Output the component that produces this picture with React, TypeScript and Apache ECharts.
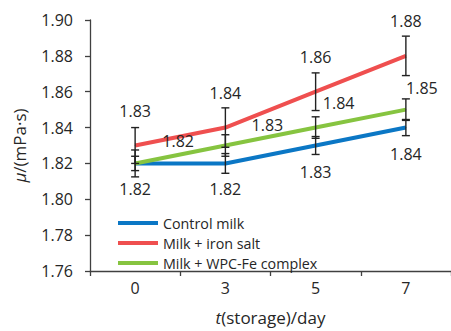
import React, { useEffect, useRef } from "react";
import * as echarts from "echarts";

const categories = ["0", "3", "5", "7"];
const controlMilk = [1.82, 1.82, 1.83, 1.84];
const milkIronSalt = [1.83, 1.84, 1.86, 1.88];
const milkWpcFe = [1.82, 1.83, 1.84, 1.85];
const controlErr = [0.004, 0.0055, 0.005, 0.0045];
const ironErr = [0.01, 0.011, 0.0105, 0.011];
const wpcErr = [0.0075, 0.006, 0.006, 0.006];
const yTicks = { min: 1.76, max: 1.9, interval: 0.02 };
const seriesNames = ["Control milk", "Milk + iron salt", "Milk + WPC-Fe complex"];
const colors = ["#0B77C5", "#EF4F4F", "#86C440"];
const greenLabelOffsets = [
  [43, -22],
  [42, -21],
  [23, -25],
  [16, -22],
];

const FONT = "'Open Sans', sans-serif";
const TEXT = "#262626";

function errorSeries(name: string, values: number[], errs: number[]) {
  return {
    type: "custom",
    name,
    z: 5,
    silent: true,
    data: values.map((v, i) => [i, v, errs[i]]),
    encode: { x: 0, y: 1 },
    renderItem: (params: any, api: any) => {
      const i = api.value(0);
      const v = api.value(1);
      const e = api.value(2);
      const top = api.coord([i, v + e]);
      const bot = api.coord([i, v - e]);
      const cap = 4;
      const style = { stroke: "#222", lineWidth: 1.4 };
      return {
        type: "group",
        children: [
          { type: "line", shape: { x1: top[0], y1: top[1], x2: bot[0], y2: bot[1] }, style },
          { type: "line", shape: { x1: top[0] - cap, y1: top[1], x2: top[0] + cap, y2: top[1] }, style },
          { type: "line", shape: { x1: bot[0] - cap, y1: bot[1], x2: bot[0] + cap, y2: bot[1] }, style },
        ],
      };
    },
  };
}

function lineSeries(name: string, values: number[], color: string, labelFor: (i: number) => any) {
  return {
    type: "line",
    name,
    z: 3,
    symbol: "circle",
    symbolSize: 1,
    showSymbol: true,
    itemStyle: { color },
    lineStyle: { color, width: 4 },
    data: values.map((v, i) => ({ value: v, label: labelFor(i) })),
    label: {
      show: true,
      position: "inside",
      fontFamily: FONT,
      fontSize: 16,
      color: TEXT,
      formatter: (p: any) => Number(p.value).toFixed(2),
    },
  };
}

export default function App() {
  const ref = useRef<HTMLDivElement>(null);
  useEffect(() => {
    if (!ref.current) return;
    const chart = echarts.init(ref.current, undefined, { renderer: "svg" });
    chart.setOption({
      animation: false,
      backgroundColor: "#fff",
      grid: { left: 90, right: -1, top: 20, bottom: 50, containLabel: false },
      legend: {
        orient: "vertical",
        left: 113,
        top: 210,
        icon: "rect",
        itemWidth: 40,
        itemHeight: 4,
        itemGap: 4,
        data: seriesNames,
        textStyle: { fontFamily: FONT, fontSize: 14.3, color: TEXT, lineHeight: 16 },
      },
      xAxis: {
        type: "category",
        data: categories,
        boundaryGap: true,
        name: "{i|t}(storage)/day",
        nameLocation: "middle",
        nameGap: 38,
        nameTextStyle: {
          fontFamily: FONT,
          fontSize: 17,
          color: TEXT,
          rich: { i: { fontFamily: FONT, fontSize: 17, fontStyle: "italic", color: TEXT } },
        },
        axisLine: { lineStyle: { color: "#404040", width: 1.3 } },
        axisTick: { show: true, length: 5, inside: false, lineStyle: { color: "#404040", width: 1.3 } },
        axisLabel: { fontFamily: FONT, fontSize: 16, color: TEXT, margin: 9 },
        splitLine: { show: false },
      },
      yAxis: {
        type: "value",
        min: yTicks.min,
        max: yTicks.max,
        interval: yTicks.interval,
        name: "{i|μ}/(mPa·s)",
        nameLocation: "middle",
        nameGap: 62,
        nameRotate: 90,
        nameTextStyle: {
          fontFamily: FONT,
          fontSize: 17,
          color: TEXT,
          rich: { i: { fontFamily: FONT, fontSize: 17, fontStyle: "italic", color: TEXT } },
        },
        axisLine: { show: true, lineStyle: { color: "#404040", width: 1.3 } },
        axisTick: { show: true, length: 5, inside: false, lineStyle: { color: "#404040", width: 1.3 } },
        axisLabel: {
          fontFamily: FONT,
          fontSize: 16,
          color: TEXT,
          margin: 17,
          formatter: (v: number) => v.toFixed(2),
        },
        splitLine: { show: false },
      },
      series: [
        lineSeries(seriesNames[0], controlMilk, colors[0], () => ({ offset: [0, 26] })),
        lineSeries(seriesNames[1], milkIronSalt, colors[1], () => ({ offset: [0, -35] })),
        lineSeries(seriesNames[2], milkWpcFe, colors[2], (i) => ({ offset: greenLabelOffsets[i] })),
        errorSeries("err0", controlMilk, controlErr),
        errorSeries("err1", milkIronSalt, ironErr),
        errorSeries("err2", milkWpcFe, wpcErr),
      ],
    });
    return () => chart.dispose();
  }, []);
  return <div ref={ref} style={{ width: 451, height: 331, position: "absolute", left: 0, top: 0 }} />;
}
